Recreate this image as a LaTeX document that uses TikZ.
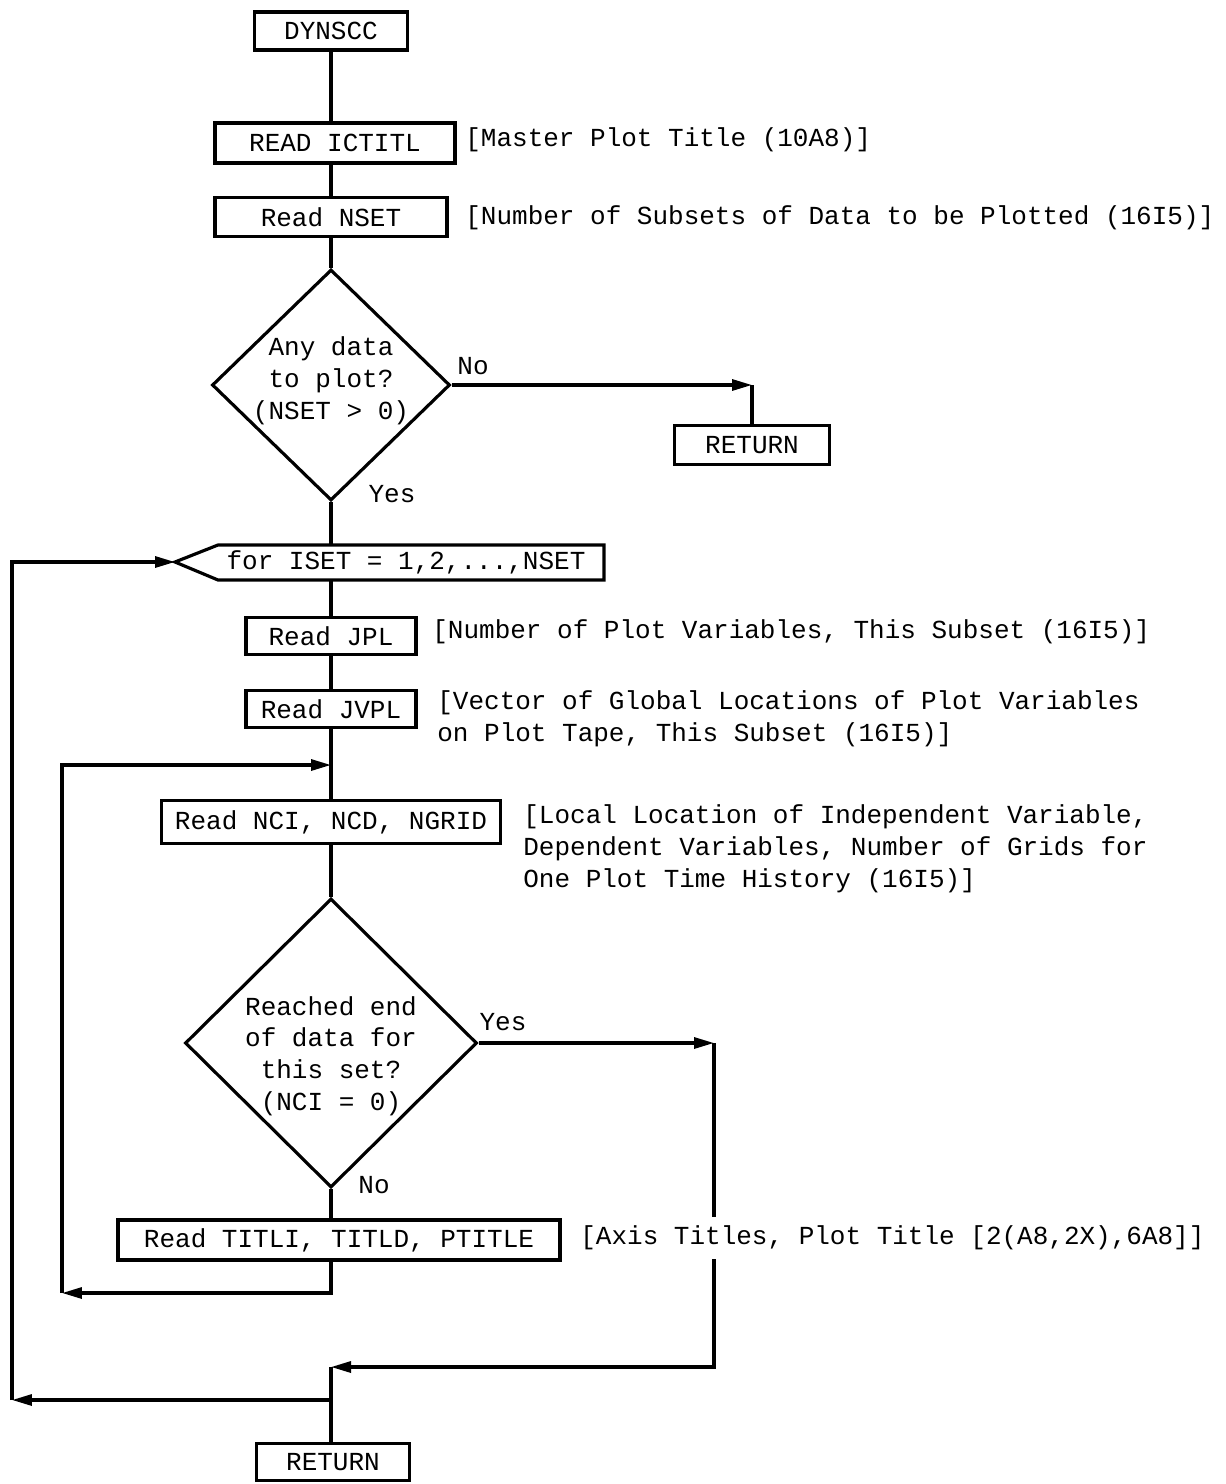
\documentclass[tikz,border=0pt]{standalone}
\usepackage{fontspec}
\setmonofont{Liberation Mono}
\usetikzlibrary{arrows.meta,shapes.geometric}

\newcommand{\flowfont}{\fontsize{14.8}{18.1}\selectfont\ttfamily}

\tikzset{
  box/.style={draw, line width=1.8pt, inner sep=0pt, font=\flowfont},
  decision/.style={draw, diamond, line width=1.8pt, inner sep=0pt},
  note/.style={anchor=west, inner sep=0pt, font=\flowfont, align=left},
  answer/.style={inner sep=0pt, font=\flowfont},
  flow/.style={line width=1.8pt},
  flowarrow/.style={line width=1.8pt, -{Triangle[length=0.4cm,width=0.22cm]}}
}

\begin{document}
\begin{tikzpicture}[x=0.02cm, y=-0.02cm]

\useasboundingbox (0,0) rectangle (1225,1484);

\node [box, minimum width=3.06cm, minimum height=0.76cm] (dynscc) at (331,31) {DYNSCC};
\node [box, minimum width=4.8cm, minimum height=0.8cm] (ictitl) at (335,143) {READ ICTITL};
\node [box, minimum width=4.64cm, minimum height=0.78cm] (nset) at (331,217) {Read NSET};
\node [decision, minimum width=4.76cm, minimum height=4.62cm] (anydata) at (331,385) {};
\node [font=\flowfont, align=center] (anytext) at (331,381) {Any data\\to plot?\\(NSET > 0)};
\node [box, minimum width=3.1cm, minimum height=0.78cm] (ret1) at (752,445) {RETURN};

\coordinate (looptip) at (175,562);
\coordinate (looptop) at (331,545);
\coordinate (loopbot) at (331,580);
\draw [flow] (looptip) -- (218,545) -- (604,545) -- (604,580) -- (218,580) -- cycle;
\node [font=\flowfont] (loop) at (406,562) {for ISET = 1,2,...,NSET};

\node [box, minimum width=3.4cm, minimum height=0.74cm] (jpl) at (331,636) {Read JPL};
\node [box, minimum width=3.4cm, minimum height=0.74cm] (jvpl) at (331,709) {Read JVPL};
\node [box, minimum width=6.78cm, minimum height=0.86cm] (ncd) at (331,822) {Read NCI, NCD, NGRID};
\node [decision, minimum width=5.84cm, minimum height=5.78cm] (endset) at (331,1043) {};
\node [font=\flowfont, align=center] (endtext) at (331,1056) {Reached end\\of data for\\this set?\\(NCI = 0)};
\node [box, minimum width=8.84cm, minimum height=0.8cm] (titl) at (339,1240) {Read TITLI, TITLD, PTITLE};
\node [box, minimum width=3.06cm, minimum height=0.74cm] (ret2) at (333,1462) {RETURN};

\node [note] (ictitlnote) at (465,140) {[Master Plot Title (10A8)]};
\node [note] (nsetnote) at (465,218) {[Number of Subsets of Data to be Plotted (16I5)]};
\node [note] (jplnote) at (432,632) {[Number of Plot Variables, This Subset (16I5)]};
\node [note] (jvplnote) at (437,719) {[Vector of Global Locations of Plot Variables\\on Plot Tape, This Subset (16I5)]};
\node [note] (ncdnote) at (523,849) {[Local Location of Independent Variable,\\Dependent Variables, Number of Grids for\\One Plot Time History (16I5)]};

\node [answer] (no1) at (473,366) {No};
\node [answer] (yes1) at (392,494) {Yes};
\node [answer] (yes2) at (503,1022) {Yes};
\node [answer] (no2) at (374,1185) {No};

\coordinate (noturn) at (752,385);
\coordinate (inner) at (331,765);
\coordinate (innerlow) at (62,1293);
\coordinate (yesturn) at (714,1043);
\coordinate (merge) at (331,1367);
\coordinate (outerlow) at (12,1400);

\draw [flow] (dynscc.south) -- (dynscc.south |- ictitl.north);
\draw [flow] (nset.north |- ictitl.south) -- (nset.north);
\draw [flow] (nset.south) -- (anydata.north);
\draw [flowarrow] (anydata.east) -- (noturn);
\draw [flow] (noturn) -- (ret1.north);
\draw [flow] (anydata.south) -- (looptop);
\draw [flow] (loopbot) -- (jpl.north);
\draw [flow] (jpl.south) -- (jvpl.north);
\draw [flow] (jvpl.south) -- (ncd.north);
\draw [flowarrow] (innerlow) |- (inner);
\draw [flow] (ncd.south) -- (endset.north);
\draw [flowarrow] (endset.east) -- (yesturn);
\draw [flowarrow] (yesturn) |- (merge);
\draw [flow] (endset.south) -- (endset.south |- titl.north);
\draw [flowarrow] (endset.south |- titl.south) |- (innerlow);
\draw [flowarrow] (merge) |- (outerlow);
\draw [flowarrow] (outerlow) |- (looptip);
\draw [flow] (merge) -- (merge |- ret2.north);

\node [note, fill=white, inner ysep=5pt] (titlnote) at (580,1238) {[Axis Titles, Plot Title [2(A8,2X),6A8]]};

\end{tikzpicture}
\end{document}
